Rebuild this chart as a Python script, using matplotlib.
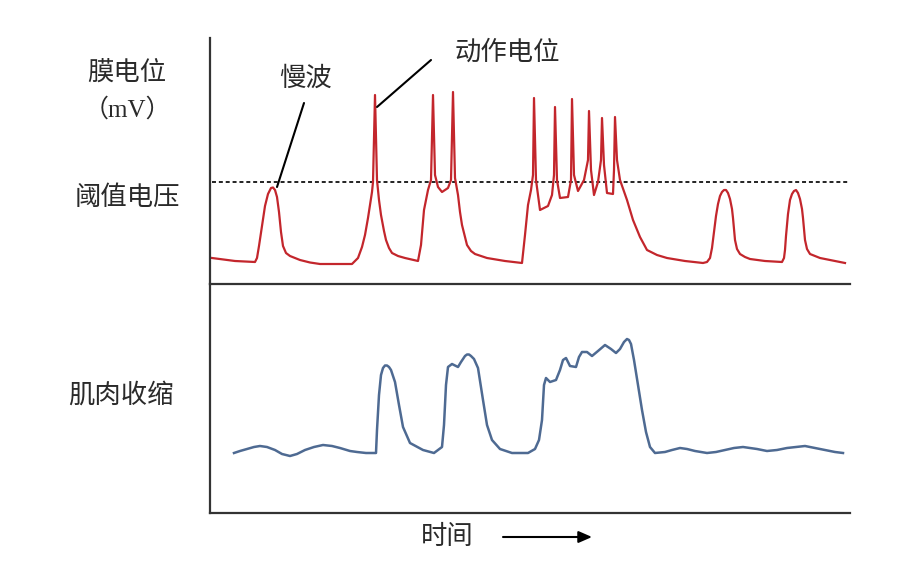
import matplotlib
matplotlib.use("Agg")
import matplotlib.pyplot as plt

plt.rcParams['font.family'] = ['Noto Sans CJK SC', 'DejaVu Sans']

# ---- data (time in arbitrary units, values in arbitrary units) ----
mp_time = [2, 25, 45, 47, 49, 52, 55, 58, 61, 63, 65, 67, 69, 71, 73, 76, 80, 90, 100, 110, 142,
           148, 152, 155, 158, 160, 162, 163, 165, 167, 169, 171, 174, 176, 179, 182, 188, 195, 208,
           211, 214, 218, 221, 223, 225, 228, 232, 238, 241, 243, 245, 248, 250, 252, 255, 257, 261,
           265, 277, 295, 312,
           315, 318, 321, 323, 324, 326, 330, 338, 342, 344, 345, 347, 350, 358, 361, 362, 364, 368,
           374, 378, 379, 381, 384, 388, 391, 392, 394, 397, 403, 404, 405, 407, 410, 417, 423, 430,
           437, 447, 457, 475, 493,
           497, 500, 502, 504, 506, 508, 510, 512, 514, 516, 518, 520, 522, 523, 524, 525, 527, 530,
           535, 540, 555, 572,
           574, 575, 576, 578, 580, 582, 584, 586, 588, 590, 592, 593, 594, 595, 597, 600, 605, 610,
           620, 635]
mp_value = [26, 23, 22, 26, 38, 58, 78, 90, 96, 96.5, 94, 87, 72, 52, 38, 31, 28, 24, 21.5, 20, 20,
            26, 37, 49, 66, 79, 92, 102, 189, 104, 84, 69, 53, 44, 36, 31, 28, 26, 23,
            39, 74, 94, 104, 189, 109, 97, 92, 96, 104, 192, 106, 89, 72, 59, 47, 39, 33,
            30, 26, 23, 21,
            49, 79, 94, 109, 186, 104, 74, 78, 89, 109, 177, 104, 86, 87, 104, 185, 109, 93,
            104, 124, 173, 114, 89, 102, 124, 166, 119, 91, 90, 114, 167, 124, 104, 84, 64, 47,
            34, 29, 26, 23, 21,
            22, 26, 36, 52, 68, 80, 88, 92, 94, 94, 91, 85, 75, 66, 55, 44, 35, 30,
            27, 25, 23, 22,
            26, 34, 48, 70, 84, 90, 93, 94, 91, 85, 75, 66, 55, 44, 35, 30, 28, 26,
            24, 21]
threshold = 102

mc_time = [24, 30, 37, 44, 50, 57, 65, 72, 80, 87, 95, 104, 113, 122, 130, 140, 147, 156, 166,
           167, 169, 171, 173, 175, 177, 179, 181, 185, 189, 193, 200, 213, 224, 232,
           234, 236, 238, 242, 248, 251, 255, 257, 259, 261, 264, 268, 273, 277, 282, 290, 302, 318,
           325, 329, 332, 334, 336, 340, 346, 350, 353, 356, 360, 366, 369, 372, 377, 382,
           388, 395, 401, 406, 410, 414, 417, 419, 421, 424, 428, 432, 436, 440, 445,
           450, 455, 462, 470, 477, 485, 491, 497, 506, 515, 524, 533, 540, 547, 557, 567, 577,
           586, 595, 605, 615, 625, 633]
mc_value = [60, 62, 64, 66, 67, 66, 63, 59, 57, 59, 63, 66, 68, 67, 65, 62, 61, 60, 60,
            83, 118, 138, 145, 147.5, 147.5, 146, 143, 131, 108, 86, 70, 63, 60, 66,
            88, 128, 146, 149, 146, 151, 157, 158.5, 158.5, 157, 154, 145, 113, 88, 73, 64, 60, 60,
            64, 73, 93, 128, 135, 131, 133, 143, 153, 155, 147, 146, 156, 161, 161, 157,
            162, 168, 164, 160, 164, 171, 174, 173, 169, 153, 128, 103, 81, 66, 60,
            60.5, 61, 63, 65, 64, 62, 61, 60, 61, 63, 65, 66, 65, 64, 62, 63, 65,
            66, 67, 65, 63, 61, 60]

left_labels = ['膜电位', '（mV）', '阈值电压', '肌肉收缩']
slow_wave_label = '慢波'
ap_label = '动作电位'
time_label = '时间'

# ---- figure ----
W, H = 899, 578
fig = plt.figure(figsize=(W / 100, H / 100), dpi=100)
fig.patch.set_facecolor('white')


def fx(x):
    return x / W


def fy(y):
    return 1 - y / H


x0, x1 = 210, 850
ax_top = fig.add_axes([fx(x0), fy(284), (x1 - x0) / W, (284 - 38) / H])
ax_bot = fig.add_axes([fx(x0), fy(513), (x1 - x0) / W, (513 - 284) / H])

spine_col = '#333333'
for ax, ymax in ((ax_top, 246), (ax_bot, 229)):
    ax.set_xlim(0, 640)
    ax.set_ylim(0, ymax)
    ax.set_xticks([])
    ax.set_yticks([])
    for s in ('top', 'right'):
        ax.spines[s].set_visible(False)
    for s in ('left', 'bottom'):
        ax.spines[s].set_color(spine_col)
        ax.spines[s].set_linewidth(1.6)
    ax.patch.set_alpha(0)

ax_top.axhline(threshold, xmin=0.003, xmax=0.997, color='#111111', lw=1.3,
               linestyle=(0, (2.2, 1.6)))
ax_top.plot(mp_time, mp_value, color='#c3262c', lw=1.6, solid_joinstyle='round',
            clip_on=False)
ax_bot.plot(mc_time, mc_value, color='#4e6a92', lw=1.8, solid_joinstyle='round',
            clip_on=False)

# annotations
ax_top.annotate('', xy=(67, 97), xytext=(94, 181),
                arrowprops=dict(arrowstyle='-', color='black', lw=1.5,
                                shrinkA=0, shrinkB=0), annotation_clip=False)
ax_top.annotate('', xy=(167, 177), xytext=(221, 224),
                arrowprops=dict(arrowstyle='-', color='black', lw=1.5,
                                shrinkA=0, shrinkB=0), annotation_clip=False)

txt_col = '#2a2a2a'
fs = 19
fig.text(fx(306), fy(78), slow_wave_label, ha='center', va='center', fontsize=fs, color=txt_col)
fig.text(fx(507), fy(52), ap_label, ha='center', va='center', fontsize=fs, color=txt_col)

fig.text(fx(127), fy(72), left_labels[0], ha='center', va='center', fontsize=fs, color=txt_col)
fig.text(fx(127), fy(110), left_labels[1], ha='center', va='center', fontsize=fs - 1,
         color=txt_col, family=['Liberation Serif', 'Noto Sans CJK SC'])
fig.text(fx(127), fy(197), left_labels[2], ha='center', va='center', fontsize=fs, color=txt_col)
fig.text(fx(121), fy(395), left_labels[3], ha='center', va='center', fontsize=fs, color=txt_col)

fig.text(fx(447), fy(537), time_label, ha='center', va='center', fontsize=fs, color=txt_col)
fig.add_artist(matplotlib.patches.FancyArrowPatch(
    (fx(503), fy(537)), (fx(592), fy(537)), transform=fig.transFigure,
    arrowstyle='-|>,head_length=8,head_width=3.5', color='black', lw=1.5,
    shrinkA=0, shrinkB=0))

fig.savefig('out.png', dpi=100, facecolor='white')
